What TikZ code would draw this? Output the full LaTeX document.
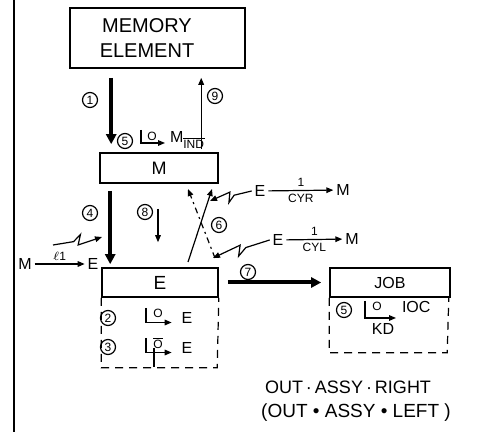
\documentclass[tikz,border=0pt]{standalone}
\usepackage{amsmath}
\usepackage{fontspec}
\setmainfont{Liberation Sans}
\usetikzlibrary{calc,arrows.meta}
\begin{document}
\begin{tikzpicture}[x=0.5pt,y=-0.5pt,
  box/.style={draw,line width=0.8pt,inner sep=0pt},
  circ/.style={circle,draw,line width=0.6pt,inner sep=0pt,minimum size=7.5pt,font=\fontsize{6}{6}\selectfont},
  heavy/.style={line width=2pt,-{Triangle[length=5pt,width=5pt]}},
  thinarr/.style={line width=0.6pt,-{Triangle[length=3.5pt,width=2.8pt]}},
  lbl/.style={inner sep=0pt,outer sep=1.5pt,font=\fontsize{8}{9}\selectfont},
  sm/.style={inner sep=0pt,font=\fontsize{6}{6}\selectfont},
  dbox/.style={line width=0.6pt,dash pattern=on 4pt off 3pt},
  zz/.style={to path={-- ($(\tikztostart)!0.42!(\tikztotarget)$)
     -- ($(\tikztostart)!0.58!(\tikztotarget)!3pt!90:(\tikztotarget)$)
     -- ($(\tikztostart)!0.5!(\tikztotarget)!-2pt!90:(\tikztotarget)$)
     -- (\tikztotarget)}},
]
\useasboundingbox (0,0) rectangle (477,432);
% left margin rule
\draw[line width=1.2pt] (14,0) -- (14,432);

% boxes
\node[box,minimum width=87.5pt,minimum height=30pt] (mem) at (157.5,38) {};
\node[inner sep=0pt,align=center,font=\fontsize{10}{12.5}\selectfont] (memtxt) at (147,38) {MEMORY\\ELEMENT};
\node[box,minimum width=59pt,minimum height=15pt,font=\fontsize{9}{10}\selectfont] (M) at (159,168) {M};
\node[box,minimum width=58pt,minimum height=14.5pt,font=\fontsize{9.5}{10}\selectfont] (E) at (160,282.5) {E};
\node[box,minimum width=60pt,minimum height=14.5pt,font=\fontsize{8}{9}\selectfont] (JOB) at (390,282.5) {JOB};
\draw[dbox] (E.south west) -- ++(0,70) -- ++(116,0) -- (E.south east);
\draw[dbox] (JOB.south west) -- ++(0,55) -- ++(118,0) -- ([xshift=-1pt]JOB.south east);

% main arrows
\draw[heavy] ([xshift=21pt,yshift=-4.5pt]mem.south west) -- ([xshift=6pt,yshift=4pt]M.north west);
\draw[thinarr] ([xshift=51pt,yshift=1.5pt]M.north west) -- ([xshift=66pt,yshift=-4.5pt]mem.south west);
\draw[heavy] ([xshift=5.5pt,yshift=-3.5pt]M.south west) -- ([xshift=4.5pt,yshift=1.5pt]E.north west);
\draw[thinarr] ([xshift=-0.5pt,yshift=-12.5pt]M.south) -- ([xshift=-1pt,yshift=12.5pt]E.north);
\draw[heavy] ([xshift=4.5pt]E.east) -- ([xshift=-4pt]JOB.west);

% step numbers
\node[circ] (c1) at (90,100) {1};
\node[circ] (c9) at (215,96) {9};
\node[circ] (c5) at (125,141) {5};
\node[circ] (c4) at (90,213) {4};
\node[circ] (c8) at (145,212) {8};
\node[circ] (c6) at (219,225) {6};
\node[circ] (c7) at (248,272) {7};
\node[circ] (c2) at (108,318) {2};
\node[circ] (c3) at (108,347) {3};
\node[circ] (c5b) at (344,310) {5};

% (5) L-O-> M_IND above M
\node[lbl,outer sep=0pt,anchor=base west] (m5) at (170,143) {M$_{\overline{\text{IND}}}$};
\coordinate (L5) at (141,130);
\draw[thinarr] (L5) |- ([xshift=-2.5pt]m5.base west);
\node[sm] (o5) at (152,136) {O};

% M -l1-> E
\node[lbl] (mA) at (25,264) {M};
\node[lbl] (mB) at (93,264) {E};
\draw[thinarr] (mA) -- node[sm,above=1.5pt] (l1) {$\ell$1} (mB);

% E -1/CYR-> M
\node[lbl] (r1E) at (260,191) {E};
\node[lbl] (r1M) at (343,190) {M};
\draw[thinarr] (r1E) -- node[sm,above=1.5pt] (r1t) {1} node[sm,below=1.5pt] (r1b) {CYR} (r1M);
% E -1/CYL-> M
\node[lbl] (r2E) at (278,240) {E};
\node[lbl] (r2M) at (352,239) {M};
\draw[thinarr] (r2E) -- node[sm,above=1.5pt] (r2t) {1} node[sm,below=1.5pt] (r2b) {CYL} (r2M);

% (2) L-O-> E ; (3) L-Obar-> E
\node[lbl,outer sep=0pt] (e2) at (187,318) {E};
\coordinate (L2) at (146,308);
\draw[thinarr] (L2) |- ([xshift=-5pt,yshift=0.5pt]e2.south west);
\node[sm] (o2) at (158,313) {O};
\node[lbl,outer sep=0pt] (e3) at (187,348) {E};
\coordinate (L3) at (146,338);
\draw[thinarr] (L3) |- ([xshift=-5pt,yshift=0.5pt]e3.south west);
\node[sm] (o3) at (158,343) {$\overline{\text{O}}$};
\draw[line width=0.6pt] (154,348) -- (154,367);

% JOB: (5) L-O/KD-> IOC
\node[lbl,outer sep=0pt,anchor=base west] (ioc) at (402,313) {IOC};
\coordinate (L6) at (365,301);
\draw[thinarr] (L6) |- ([xshift=-3pt,yshift=-2.5pt]ioc.base west);
\node[sm] (o6) at (377,306) {O};
\node[lbl] (kd) at (383,329) {KD};

% footer
\node[inner sep=0pt,font=\fontsize{9}{10}\selectfont] (oar) at (348,387) {OUT\,·\,ASSY\,·\,RIGHT};
\node[inner sep=0pt,font=\fontsize{9.5}{10}\selectfont] (oal) at (356,413) {(OUT • ASSY • LEFT )};

% zig-zag (lightning) arrows
\coordinate (zs1) at (53,245);
\coordinate (ze1) at (102,237);
\coordinate (ze2) at (210,201);
\coordinate (ze3) at (213,258);
\draw[thinarr] (zs1) to[zz] (ze1);
\draw[thinarr] (r1E.west) to[zz] (ze2);
\draw[thinarr] (r2E.west) to[zz] (ze3);

% crossing lines at step 6
\coordinate (l1a) at (188,262);
\coordinate (l1b) at (212,189);
\coordinate (l2a) at (215,258);
\coordinate (l2b) at (188,189);
\draw[thinarr] (l1a) -- (l1b);
\draw[thinarr,dash pattern=on 3pt off 2pt on 1pt off 2pt] (l2a) -- (l2b);
\end{tikzpicture}
\end{document}
